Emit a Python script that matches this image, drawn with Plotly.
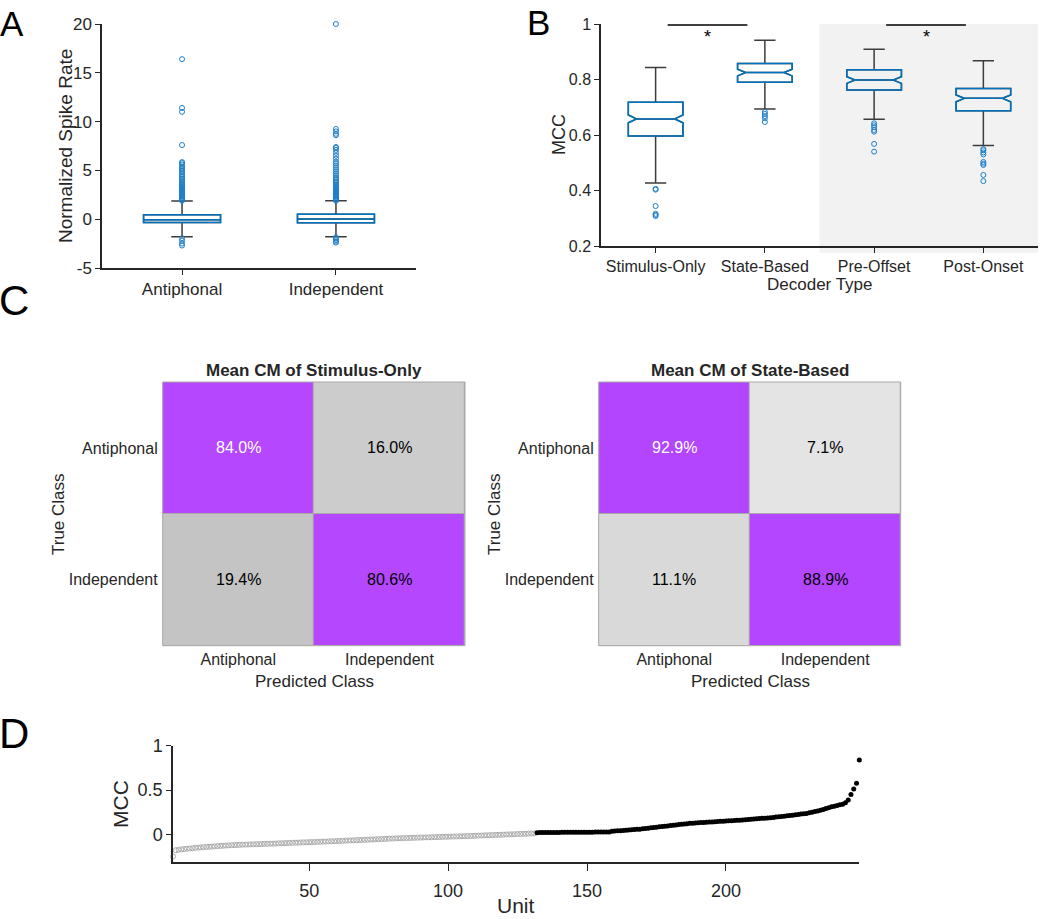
import plotly.graph_objects as go

# ------------------------------------------------------------------ data
# Panel A: normalized spike rate (box statistics + outliers)
A_categories = ["Antiphonal", "Independent"]
A_q1 = [-0.35, -0.36]
A_median = [-0.05, 0.02]
A_q3 = [0.45, 0.50]
A_lower_whisker = [-1.79, -1.79]
A_upper_whisker = [1.86, 1.88]
A_outliers_antiphonal = [16.4, 11.4, 11.0, 7.6, 5.85, 5.75, 5.6, 5.4, 5.25, 5.1, 4.95,
                         4.8, 4.6, 4.45, 4.3, 4.15, 4.0, 3.85, 3.7, 3.6, 3.5, 3.4, 3.3,
                         3.2, 3.1, 3.0, 2.9, 2.8, 2.7, 2.6, 2.5, 2.4, 2.3, 2.2, 2.1, 2.0,
                         1.95, 1.9, -1.95, -2.2, -2.5, -2.7]
A_outliers_independent = [20.0, 9.25, 9.0, 8.75, 8.6, 7.4, 7.3, 7.1, 6.8, 6.5, 6.2, 5.9,
                          5.7, 5.5, 5.3, 5.1, 4.9, 4.7, 4.5, 4.3, 4.15, 4.0, 3.85, 3.7,
                          3.55, 3.4, 3.3, 3.2, 3.1, 3.0, 2.9, 2.8, 2.7, 2.6, 2.5, 2.4,
                          2.3, 2.2, 2.1, 2.0, 1.95, 1.9, -1.85, -2.0, -2.15, -2.3, -2.4]
A_ticks = [-5, 0, 5, 10, 15, 20]

# Panel B: MCC per decoder type
B_categories = ["Stimulus-Only", "State-Based", "Pre-Offset", "Post-Onset"]
B_q1 = [0.596, 0.790, 0.762, 0.687]
B_median = [0.658, 0.825, 0.798, 0.732]
B_q3 = [0.718, 0.858, 0.835, 0.768]
B_lower_whisker = [0.427, 0.694, 0.657, 0.562]
B_upper_whisker = [0.843, 0.941, 0.909, 0.868]
B_notchspan = [0.014, 0.012, 0.012, 0.012]
B_outliers_stimulus_only = [0.406, 0.403, 0.344, 0.316, 0.312, 0.308]
B_outliers_state_based = [0.683, 0.676, 0.668, 0.660, 0.647]
B_outliers_pre_offset = [0.642, 0.635, 0.628, 0.618, 0.612, 0.568, 0.540]
B_outliers_post_onset = [0.549, 0.545, 0.537, 0.530, 0.503, 0.497, 0.492, 0.456, 0.434]
B_significant_pairs = [("Stimulus-Only", "State-Based"), ("Pre-Offset", "Post-Onset")]
B_shaded_categories = ["Pre-Offset", "Post-Onset"]

# Panel C: mean confusion matrices (%)
C_classes = ["Antiphonal", "Independent"]
C_stimulus_only = [[84.0, 16.0], [19.4, 80.6]]
C_state_based = [[92.9, 7.1], [11.1, 88.9]]

# Panel D: MCC per unit (sorted); non-significant units then significant units
D_mcc_nonsignificant = [
    -0.250, -0.180, -0.175, -0.170, -0.167, -0.163, -0.160, -0.157, -0.153, -0.150,
    -0.148, -0.146, -0.143, -0.141, -0.138, -0.136, -0.133, -0.131, -0.129, -0.127,
    -0.125, -0.123, -0.122, -0.120, -0.119, -0.117, -0.116, -0.115, -0.114, -0.113,
    -0.112, -0.111, -0.110, -0.108, -0.107, -0.106, -0.105, -0.104, -0.102, -0.101,
    -0.100, -0.099, -0.097, -0.096, -0.095, -0.094, -0.092, -0.091, -0.090, -0.089,
    -0.088, -0.087, -0.085, -0.084, -0.083, -0.082, -0.080, -0.079, -0.078, -0.076,
    -0.075, -0.074, -0.072, -0.071, -0.069, -0.068, -0.066, -0.065, -0.064, -0.062,
    -0.061, -0.059, -0.058, -0.056, -0.055, -0.054, -0.052, -0.051, -0.049, -0.048,
    -0.046, -0.045, -0.044, -0.043, -0.042, -0.041, -0.040, -0.039, -0.038, -0.037,
    -0.036, -0.035, -0.034, -0.033, -0.032, -0.031, -0.030, -0.029, -0.028, -0.027,
    -0.026, -0.025, -0.024, -0.023, -0.022, -0.021, -0.020, -0.019, -0.018, -0.016,
    -0.015, -0.014, -0.012, -0.011, -0.010, -0.009, -0.007, -0.006, -0.005, -0.004,
    -0.002, -0.001, 0.000, 0.001, 0.003, 0.004, 0.005, 0.006, 0.008, 0.009, 0.010,
]
D_mcc_significant = [
    0.018, 0.019, 0.019, 0.020, 0.020, 0.020, 0.021, 0.021, 0.021, 0.022,
    0.022, 0.022, 0.022, 0.023, 0.023, 0.023, 0.023, 0.024, 0.024, 0.024,
    0.024, 0.025, 0.025, 0.025, 0.025, 0.026, 0.026,
    0.034, 0.037, 0.039, 0.041, 0.043, 0.046, 0.048, 0.051, 0.053, 0.056, 0.058,
    0.062, 0.066, 0.069, 0.073, 0.077, 0.080, 0.084, 0.088, 0.091, 0.095,
    0.099, 0.102, 0.106, 0.110, 0.113, 0.117, 0.120, 0.124,
    0.126, 0.128, 0.130, 0.132, 0.134, 0.136, 0.138, 0.140, 0.142, 0.144,
    0.146, 0.148, 0.150, 0.152, 0.154, 0.156, 0.158, 0.160,
    0.162, 0.165, 0.167, 0.170, 0.172, 0.175, 0.177, 0.180, 0.182, 0.185, 0.187, 0.190,
    0.194, 0.198, 0.201, 0.205, 0.209, 0.213, 0.216, 0.220, 0.224, 0.228, 0.231, 0.235,
    0.242, 0.249, 0.256, 0.264, 0.272, 0.281, 0.290, 0.300, 0.310, 0.318,
    0.326, 0.333, 0.340, 0.355,
    0.386, 0.450, 0.510, 0.575, 0.840,
]

# ------------------------------------------------------------------ styles
W, H = 1050, 919
FONT = "Liberation Sans, Arial, Helvetica, sans-serif"
AX = "#262626"
BLUE = "#0072BD"
WHISK = "#3c3c3c"
PURPLE_SCALE = [[0.0, "#f6f6f6"], [0.2, "#c2c2c2"], [0.5, "#c2c2c2"],
                [0.5, "#b94cff"], [1.0, "#b244ff"]]
CELL_TEXT_COLORS = [["white", "black"], ["black", "black"]]
GRID_GRAY = "#a8a8a8"


def px(x):
    return x / W


def py(y):
    return 1 - y / H


fig = go.Figure()


def add_boxes(cats, q1, med, q3, lo, hi, xa, ya, whiskerwidth, notch=None):
    common = dict(x=cats, q1=q1, median=med, q3=q3, width=0.5,
                  fillcolor="rgba(0,0,0,0)", boxpoints=False, showlegend=False,
                  hoverinfo="skip", xaxis=xa, yaxis=ya)
    if notch is not None:
        common.update(notched=True, notchspan=notch, notchwidth=0.15)
    fig.add_trace(go.Box(lowerfence=lo, upperfence=hi, whiskerwidth=whiskerwidth,
                         line=dict(color=WHISK, width=1.5), **common))
    fig.add_trace(go.Box(lowerfence=q1, upperfence=q3, whiskerwidth=0,
                         line=dict(color=BLUE, width=1.5), **common))


def add_outliers(cat, values, xa, ya):
    fig.add_trace(go.Scatter(
        x=[cat] * len(values), y=values, mode="markers", showlegend=False,
        hoverinfo="skip", xaxis=xa, yaxis=ya, cliponaxis=False,
        marker=dict(symbol="circle-open", size=5, color="#1f7fc8", line=dict(width=1))))


# Panel A
add_boxes(A_categories, A_q1, A_median, A_q3, A_lower_whisker, A_upper_whisker,
          "x", "y", 0.28)
add_outliers(A_categories[0], A_outliers_antiphonal, "x", "y")
add_outliers(A_categories[1], A_outliers_independent, "x", "y")

# Panel B
add_boxes(B_categories, B_q1, B_median, B_q3, B_lower_whisker, B_upper_whisker,
          "x2", "y2", 0.39, notch=B_notchspan)
for cat, vals in zip(B_categories, [B_outliers_stimulus_only, B_outliers_state_based,
                                    B_outliers_pre_offset, B_outliers_post_onset]):
    add_outliers(cat, vals, "x2", "y2")

# Panel C heatmaps
for z, xa, ya in [(C_stimulus_only, "x3", "y3"), (C_state_based, "x4", "y4")]:
    fig.add_trace(go.Heatmap(z=z, x=C_classes, y=C_classes, xaxis=xa, yaxis=ya,
                             colorscale=PURPLE_SCALE, zmin=0, zmax=100,
                             showscale=False, xgap=1, ygap=1, hoverinfo="skip"))

# Panel D
n_ns = len(D_mcc_nonsignificant)
units_ns = list(range(1, n_ns + 1))
units_sig = list(range(n_ns + 1, n_ns + len(D_mcc_significant) + 1))
fig.add_trace(go.Scatter(x=units_ns, y=D_mcc_nonsignificant, mode="markers",
                         xaxis="x5", yaxis="y5", showlegend=False, cliponaxis=False,
                         marker=dict(symbol="circle-open", size=5, color="#ababab",
                                     line=dict(width=1))))
fig.add_trace(go.Scatter(x=units_sig, y=D_mcc_significant, mode="markers",
                         xaxis="x5", yaxis="y5", showlegend=False, cliponaxis=False,
                         marker=dict(symbol="circle", size=5, color="black")))

# ------------------------------------------------------------------ axes
tickfont_A = dict(family=FONT, size=17, color=AX)
base_axis = dict(showline=True, linecolor=AX, linewidth=1.5, ticks="outside",
                 tickcolor=AX, tickwidth=1.2, showgrid=False, zeroline=False,
                 mirror=False, fixedrange=True, automargin=False)
cm_axis = dict(showgrid=False, zeroline=False, ticks="", fixedrange=True,
               automargin=False, type="category", categoryarray=C_classes,
               tickfont=dict(family=FONT, size=16, color=AX))

layout = dict(
    width=W, height=H, margin=dict(l=0, r=0, t=0, b=0, autoexpand=False),
    paper_bgcolor="white", plot_bgcolor="rgba(0,0,0,0)",
    font=dict(family=FONT, color=AX), showlegend=False, boxmode="overlay",
    xaxis=dict(base_axis, domain=[px(102), px(416)], anchor="y", type="category",
               categoryarray=A_categories, range=[-0.52, 1.52], ticklen=5,
               tickfont=tickfont_A),
    yaxis=dict(base_axis, domain=[py(268), py(24)], anchor="x", range=[-5, 20],
               tickvals=A_ticks, ticktext=[str(t) for t in A_ticks], ticklen=5,
               tickfont=tickfont_A),
    xaxis2=dict(base_axis, domain=[px(601), px(1038)], anchor="y2", type="category",
                categoryarray=B_categories, range=[-0.5, 3.5], ticklen=5,
                tickfont=dict(family=FONT, size=16, color=AX)),
    yaxis2=dict(base_axis, domain=[py(246), py(24)], anchor="x2", range=[0.2, 1.0],
                tickvals=[0.2, 0.4, 0.6, 0.8, 1.0],
                ticktext=["0.2", "0.4", "0.6", "0.8", "1"], ticklen=5,
                tickfont=dict(family=FONT, size=16, color=AX)),
    xaxis3=dict(cm_axis, domain=[px(162.7), px(465)], anchor="y3", ticklabelstandoff=2),
    yaxis3=dict(cm_axis, domain=[py(645.7), py(382)], anchor="x3",
                autorange="reversed", ticklabelstandoff=4),
    xaxis4=dict(cm_axis, domain=[px(598.7), px(900.7)], anchor="y4", ticklabelstandoff=2),
    yaxis4=dict(cm_axis, domain=[py(645.7), py(382)], anchor="x4",
                autorange="reversed", ticklabelstandoff=4),
    xaxis5=dict(base_axis, domain=[px(173), px(859.3)], anchor="y5",
                range=[1, n_ns + len(D_mcc_significant)], tickvals=[50, 100, 150, 200],
                ticklen=7, ticklabelstandoff=4,
                tickfont=dict(family=FONT, size=18, color=AX)),
    yaxis5=dict(base_axis, domain=[py(862.3), py(745.7)], anchor="x5",
                range=[-0.316, 1.0], tickvals=[0, 0.5, 1], ticktext=["0", "0.5", "1"],
                ticklen=5, tickfont=dict(family=FONT, size=18, color=AX)),
)
fig.update_layout(**layout)

shapes = []
# shaded region in panel B
i0 = B_categories.index(B_shaded_categories[0])
i1 = B_categories.index(B_shaded_categories[-1])
shapes.append(dict(type="rect", xref="x2", yref="y2 domain", x0=i0 - 0.5, x1=i1 + 0.5,
                   y0=-0.03, y1=1, fillcolor="#f2f2f2", line=dict(width=0),
                   layer="below"))
annotations = []
# significance bars
for a, b in B_significant_pairs:
    ia, ib = B_categories.index(a), B_categories.index(b)
    shapes.append(dict(type="line", xref="x2", yref="y2", x0=ia + 0.11, x1=ib - 0.16,
                       y0=0.996, y1=0.996, line=dict(color="black", width=1.5)))
    annotations.append(dict(xref="x2", yref="y2", x=(ia + ib) / 2 - 0.025, y=0.952,
                            text="*", showarrow=False,
                            font=dict(family=FONT, size=18, color="black")))
# confusion matrix borders and cell texts
for z, xa, ya in [(C_stimulus_only, "x3", "y3"), (C_state_based, "x4", "y4")]:
    shapes.append(dict(type="rect", xref=xa + " domain", yref=ya + " domain",
                       x0=0, x1=1, y0=0, y1=1, fillcolor=GRID_GRAY,
                       line=dict(width=0), layer="below"))
    shapes.append(dict(type="rect", xref=xa + " domain", yref=ya + " domain",
                       x0=0, x1=1, y0=0, y1=1, line=dict(color=GRID_GRAY, width=1),
                       layer="above"))
    for i, row_cls in enumerate(C_classes):
        for j, col_cls in enumerate(C_classes):
            annotations.append(dict(xref=xa, yref=ya, x=col_cls, y=row_cls,
                                    text=f"{z[i][j]:.1f}%", showarrow=False,
                                    font=dict(family=FONT, size=16,
                                              color=CELL_TEXT_COLORS[i][j])))


def label(text, x, y, size, angle=0, bold=False, xanchor="center", yanchor="middle"):
    annotations.append(dict(xref="paper", yref="paper", x=px(x), y=py(y), text=(
        f"<b>{text}</b>" if bold else text), showarrow=False, textangle=angle,
        xanchor=xanchor, yanchor=yanchor,
        font=dict(family=FONT, size=size, color=AX)))


# axis titles
label("Normalized Spike Rate", 65, 146, 19, angle=-90)
label("MCC", 559, 135, 18, angle=-90)
label("Decoder Type", 820, 285, 17)
label("True Class", 58, 514, 17, angle=-90)
label("True Class", 494, 514, 17, angle=-90)
label("Predicted Class", 314, 681, 17)
label("Predicted Class", 750, 681, 17)
label("Mean CM of Stimulus-Only", 314, 370, 17, bold=True)
label("Mean CM of State-Based", 750, 370, 17, bold=True)
label("MCC", 120, 804, 21, angle=-90)
label("Unit", 516, 918.5, 21, yanchor="bottom")
# panel letters
annotations += [
    dict(xref="paper", yref="paper", x=px(-2), y=py(24), text="A", showarrow=False,
         xanchor="left", yanchor="middle", font=dict(family=FONT, size=35, color="black")),
    dict(xref="paper", yref="paper", x=px(525), y=py(22), text="B", showarrow=False,
         xanchor="left", yanchor="middle", font=dict(family=FONT, size=35, color="black")),
    dict(xref="paper", yref="paper", x=px(-3), y=py(300), text="C", showarrow=False,
         xanchor="left", yanchor="middle", font=dict(family=FONT, size=42, color="black")),
    dict(xref="paper", yref="paper", x=px(-3), y=py(733), text="D", showarrow=False,
         xanchor="left", yanchor="middle", font=dict(family=FONT, size=42, color="black")),
]
fig.update_layout(shapes=shapes, annotations=annotations)

fig.write_html("out.html", config={"displayModeBar": False},
               post_script="document.body.style.margin='0';")
